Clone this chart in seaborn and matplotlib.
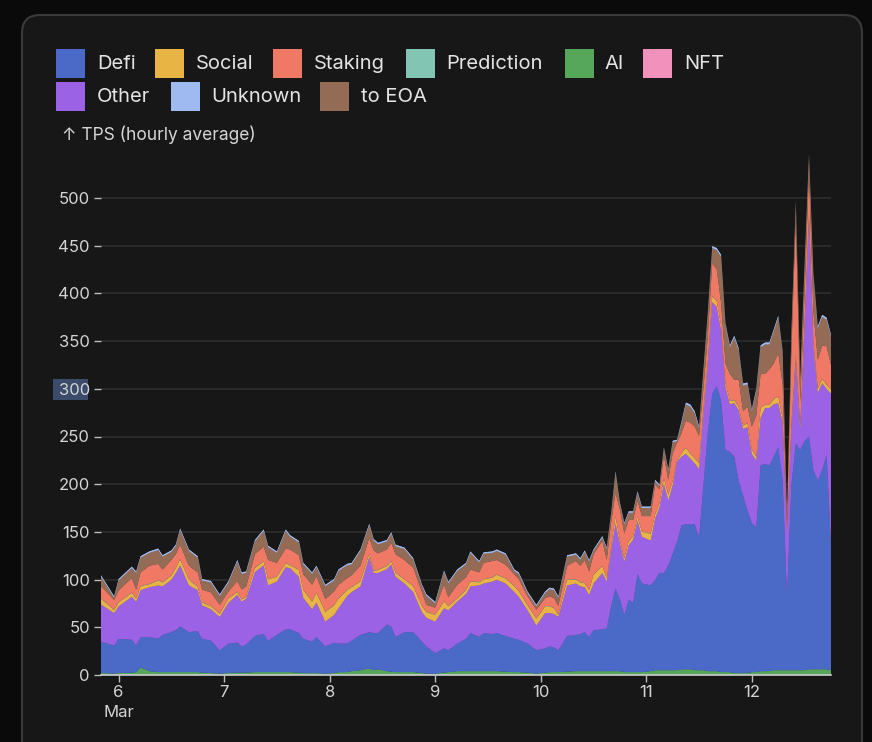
import pandas as pd
import matplotlib.pyplot as plt
import seaborn as sns
import seaborn.objects as so
from matplotlib.patches import FancyBboxPatch, Rectangle

# hours since Mar 5 20:00
hours = [0, 3, 4, 7, 8, 9, 11, 13, 14, 16,
         17, 18, 20, 22, 23, 25, 27, 29, 31, 32,
         33, 35, 37, 38, 40, 42, 43, 45, 46, 48,
         49, 51, 53, 54, 56, 57, 59, 61, 62, 63,
         65, 66, 67, 69, 71, 73, 74, 76, 78, 79,
         81, 83, 84, 86, 87, 89, 90, 92, 94, 95,
         97, 99, 101, 102, 103, 104, 106, 108, 109, 110,
         111, 112, 114, 115, 116, 117, 118, 119, 120, 121,
         122, 123, 125, 126, 127, 128, 129, 130, 131,
         132, 133, 134, 135, 136, 137, 138, 139, 140, 141,
         142, 143, 144, 145, 146, 147, 148, 149, 150, 151,
         152, 153, 154, 155, 156, 157, 158, 159, 160, 161,
         162, 163, 164, 165, 166]

ai = [2, 1.5, 2, 2.5, 3, 8, 4, 3, 3, 3,
      3, 3, 3, 3, 2.5, 2, 1.5, 2, 2.5, 2.5,
      2.5, 3, 3, 3, 3, 3, 3, 2.5, 2, 2,
      2, 1.5, 2, 3, 3, 4, 5, 7, 5, 6,
      4, 3.5, 3, 3, 3, 2, 1.5, 1.5, 2.5, 3,
      4, 4, 4, 4, 4, 4, 4, 3.5, 3, 3,
      2.5, 1.5, 2.5, 3, 3, 3, 3.5, 4, 4, 4,
      4, 4, 4, 4, 4, 4, 4, 3, 3, 3,
      3, 3, 4, 5, 5, 5, 5, 5, 5,
      6, 6, 6, 5, 5, 5, 4, 4, 4, 3,
      3, 3, 2, 2, 2, 2, 3, 3, 4, 4,
      4, 5, 5, 5, 5, 5, 5, 5, 5, 6,
      6, 6, 6, 6, 5]

defi = [33, 29.5, 36, 34.5, 28, 32, 36, 35, 39, 42,
        44, 48, 42, 43, 35.5, 34, 24.5, 31, 31.5, 27.5,
        29.5, 38, 40, 33, 39, 45, 45, 41.5, 36, 33,
        38, 28.5, 32, 30, 30, 32, 37, 38, 39, 38,
        49, 47.5, 37, 42, 42, 33, 28.5, 21.5, 25.5, 23,
        29, 34, 40, 36, 40, 39, 40, 37.5, 35, 34,
        30.5, 24.5, 25.5, 27, 26, 23, 37.5, 38, 39, 41,
        36, 43, 44, 45, 68, 87, 75, 60, 76, 73,
        103, 93, 90, 95, 102, 102, 110, 122, 135,
        151, 152, 152, 153, 140, 195, 251, 291, 299, 285,
        233, 231, 227, 202, 186, 171, 156, 152, 216, 217,
        216, 224, 234, 200, 79, 195, 238, 231, 240, 244,
        209, 198, 209, 225, 133]

other = [39, 34, 34, 45, 46, 49, 52, 56, 51, 55,
         60, 64, 49, 43, 35, 33, 35, 43, 50, 47,
         48, 67, 72, 58, 56, 65, 64, 59, 43, 34,
         36, 26, 29, 37, 50, 51, 51, 79, 63, 63,
         58, 65, 63, 51, 42, 31, 30, 33, 42, 42,
         44, 47, 49, 54, 52, 55, 56, 55, 49, 45,
         35, 26, 37, 35, 35, 35, 53, 54, 50, 47,
         44, 49, 59, 49, 59, 68, 59, 56, 57, 66,
         56, 49, 47, 64, 69, 94, 68, 72, 84,
         72, 74, 69, 64, 71, 75, 70, 96, 83, 74,
         66, 50, 56, 74, 70, 87, 73, 70, 50, 59,
         60, 55, 46, 60, 66, 60, 87, 22, 120, 230,
         130, 92, 91, 69, 157]

social = [6, 3, 4, 4, 3, 4, 3, 5, 4, 4,
          5, 6, 6, 3, 3, 3, 3, 4, 3, 2,
          2, 4, 4, 6, 5, 4, 3, 7, 8, 8,
          10, 10, 10, 10, 6, 5, 5, 3, 2, 3,
          3, 3, 4, 4, 6, 6, 6, 7, 7, 4,
          3, 4, 5, 3, 4, 4, 5, 5, 6, 6,
          5, 7, 7, 7, 6, 2, 6, 4, 4, 4,
          5, 9, 7, 3, 3, 7, 3, 3, 4, 3,
          4, 5, 7, 4, 4, 5, 6, 4, 1,
          3, 6, 5, 5, 6, 5, 5, 6, 6, 4,
          4, 3, 3, 3, 3, 4, 4, 4, 10, 3,
          3, 5, 7, 4, 2, 5, 5, 4, 5, 4,
          5, 4, 4, 4, 4]

prediction = [0.4, 0.4, 0.4, 0.4, 0.4, 0.4, 0.4, 0.4, 0.4, 0.4,
              0.4, 0.4, 0.4, 0.4, 0.4, 0.4, 0.4, 0.4, 0.4, 0.4,
              0.4, 0.4, 0.4, 0.4, 0.4, 0.4, 0.4, 0.4, 0.4, 0.4,
              0.4, 0.4, 0.4, 0.4, 0.4, 0.4, 0.4, 0.4, 0.4, 0.4,
              0.4, 0.4, 0.4, 0.4, 0.4, 0.4, 0.4, 0.4, 0.4, 0.4,
              0.4, 0.4, 0.4, 0.4, 0.4, 0.4, 0.4, 0.4, 0.4, 0.4,
              0.4, 0.4, 0.4, 0.4, 0.4, 0.4, 0.4, 0.4, 0.4, 0.4,
              0.4, 0.4, 0.4, 0.4, 0.4, 0.4, 0.4, 0.4, 0.4, 0.4,
              0.4, 0.4, 0.4, 0.4, 0.4, 0.4, 0.4, 0.4, 0.4,
              0.4, 0.4, 0.4, 0.4, 0.4, 0.4, 0.4, 0.4, 0.4, 0.4,
              0.4, 0.4, 0.4, 0.4, 0.4, 0.4, 0.4, 0.4, 0.4, 0.4,
              0.4, 0.4, 0.4, 0.4, 0.4, 0.4, 0.4, 0.4, 0.4, 0.4,
              0.4, 0.4, 0.4, 0.4, 0.4]

staking = [12.6, 10, 12, 15, 9, 14, 19, 17, 13, 16,
           14, 15, 14, 15, 13, 14, 9, 7, 11, 10,
           10, 14, 15, 20, 14, 15, 16, 15, 16, 17,
           17, 13, 14, 14, 12, 12, 16, 16, 21, 17,
           17, 19, 19, 20, 19, 14, 7, 7, 17, 9,
           14, 13, 12, 10, 17, 17, 15, 14, 12, 12,
           9, 9, 8, 10, 10, 9, 14, 19, 17, 24,
           19, 21, 26, 19, 25, 24, 32, 26, 22, 17,
           16, 16, 18, 31, 14, 23, 15, 29, 18,
           21, 28, 32, 33, 28, 20, 25, 34, 33, 24,
           20, 28, 21, 28, 15, 17, 24, 42, 35, 32,
           37, 37, 45, 35, 8, 75, 143, 23, 30, 43,
           30, 30, 35, 40, 25]

nft = [0.2, 0.2, 0.2, 0.2, 0.2, 0.2, 0.2, 0.2, 0.2, 0.2,
       0.2, 0.2, 0.2, 0.2, 0.2, 0.2, 0.2, 0.2, 0.2, 0.2,
       0.2, 0.2, 0.2, 0.2, 0.2, 0.2, 0.2, 0.2, 0.2, 0.2,
       0.2, 0.2, 0.2, 0.2, 0.2, 0.2, 0.2, 0.2, 0.2, 0.2,
       0.2, 0.2, 0.2, 0.2, 0.2, 0.2, 0.2, 0.2, 0.2, 0.2,
       0.2, 0.2, 0.2, 0.2, 0.2, 0.2, 0.2, 0.2, 0.2, 0.2,
       0.2, 0.2, 0.2, 0.2, 0.2, 0.2, 0.2, 0.2, 0.2, 0.2,
       0.2, 0.2, 0.2, 0.2, 0.2, 0.2, 0.2, 0.2, 0.2, 0.2,
       0.2, 0.2, 0.2, 0.2, 0.2, 0.2, 0.2, 0.2, 0.2,
       0.2, 0.2, 0.2, 0.2, 0.2, 0.2, 0.2, 0.2, 0.2, 0.2,
       0.2, 0.2, 0.2, 0.2, 0.2, 0.2, 0.2, 0.2, 0.2, 0.2,
       0.2, 0.2, 0.2, 0.2, 0.2, 0.2, 0.2, 0.2, 0.2, 0.2,
       0.2, 0.2, 0.2, 0.2, 0.2]

to_eoa = [9.9, 2.5, 10.5, 10.5, 17.5, 15.5, 13.5, 14.5, 13.5, 8.5,
          8.5, 15.5, 15.5, 15.5, 9.5, 10.5, 9.5, 9.5, 20.5, 16.5,
          14.5, 13.5, 16.5, 13.5, 10.5, 18.5, 13.5, 13.5, 10.5, 11.5,
          9.5, 13.5, 11.5, 14.5, 13.5, 11.5, 15.5, 13.5, 10.5, 9.5,
          8.5, 9.5, 8.5, 11.5, 8.5, 6.5, 9.5, 4.5, 13.5, 14.5,
          14.5, 13.5, 17.5, 10.5, 9.5, 8.5, 9.5, 10.5, 3.5, 5.5,
          3.5, 3.5, 5.5, 7.5, 8.5, 8.5, 9.5, 6.5, 6.5, 8.5,
          10.5, 3.5, 3.5, 11.5, 8.5, 21.5, 5.5, 9.5, 7.5, 7.5,
          8.5, 8.5, 8.5, 3.5, 3.5, 7.5, 9.5, 11.5, 1.5,
          10, 17, 17, 14, 8, 18, 23, 16, 20, 48,
          40, 28, 44, 31, 27, 23, 16, 26, 28, 31,
          26, 34, 37, 33, 4, 18, 16, 22, 28, 16,
          38, 33, 30, 28, 30]

unknown = [1.5, 1.5, 1.5, 1.5, 1.5, 1.5, 1.5, 1.5, 1.5, 1.5,
           1.5, 1.5, 1.5, 1.5, 1.5, 1.5, 1.5, 1.5, 1.5, 1.5,
           1.5, 1.5, 1.5, 1.5, 1.5, 1.5, 1.5, 1.5, 1.5, 1.5,
           1.5, 1.5, 1.5, 1.5, 1.5, 1.5, 1.5, 1.5, 1.5, 1.5,
           1.5, 1.5, 1.5, 1.5, 1.5, 1.5, 1.5, 1.5, 1.5, 1.5,
           1.5, 1.5, 1.5, 1.5, 1.5, 1.5, 1.5, 1.5, 1.5, 1.5,
           1.5, 1.5, 1.5, 1.5, 1.5, 1.5, 1.5, 1.5, 1.5, 1.5,
           1.5, 1.5, 1.5, 1.5, 1.5, 1.5, 1.5, 1.5, 1.5, 1.5,
           1.5, 1.5, 1.5, 1.5, 1.5, 1.5, 1.5, 1.5, 1.5,
           2, 2, 2, 2, 2, 2, 2, 2, 2, 2,
           2, 2, 2, 2, 2, 2, 2, 2, 2, 2,
           2, 2, 2, 2, 2, 2, 2, 2, 2, 2,
           2, 2, 2, 2, 2]

legend_order = ["Defi", "Social", "Staking", "Prediction", "AI", "NFT",
                "Other", "Unknown", "to EOA"]
stack_order = ["AI", "Defi", "Other", "Social", "Prediction", "Staking",
               "NFT", "to EOA", "Unknown"]
palette = {
    "Defi": "#4b69c6",
    "Social": "#e8b444",
    "Staking": "#f07965",
    "Prediction": "#82c5b2",
    "AI": "#57a75a",
    "NFT": "#f391bd",
    "Other": "#9b62e6",
    "Unknown": "#9fbaf0",
    "to EOA": "#946c55",
}
day_ticks = [4, 28, 52, 76, 100, 124, 148]
day_labels = ["6\nMar", "7", "8", "9", "10", "11", "12"]
y_ticks = [0, 50, 100, 150, 200, 250, 300, 350, 400, 450, 500]

sns.set_theme(style="dark")
plt.rcParams["font.family"] = ["Inter", "DejaVu Sans"]

df = pd.DataFrame({
    "hour": hours,
    "AI": ai,
    "Defi": defi,
    "Other": other,
    "Social": social,
    "Prediction": prediction,
    "Staking": staking,
    "NFT": nft,
    "to EOA": to_eoa,
    "Unknown": unknown,
})
long = df.melt(id_vars="hour", value_vars=stack_order, var_name="type", value_name="tps")

fig = plt.figure(figsize=(8.72, 7.42), dpi=100)
fig.patch.set_facecolor("#0a0a0a")

# card + legend layer, in pixel coords
bg = fig.add_axes([0, 0, 1, 1])
bg.set_xlim(0, 872)
bg.set_ylim(742, 0)
bg.axis("off")
bg.add_patch(FancyBboxPatch((22, 15), 840, 770, boxstyle="round,pad=0,rounding_size=18",
                            fc="#171717", ec="#3a3a3a", lw=1.5))

legend_pos = {
    "Defi": (56, 49, 97), "Social": (155, 49, 196), "Staking": (273, 49, 314),
    "Prediction": (406, 49, 446), "AI": (565, 49, 604), "NFT": (643, 49, 684),
    "Other": (56, 82, 97), "Unknown": (171, 82, 211), "to EOA": (320, 82, 361),
}
for name in legend_order:
    sx, sy, tx = legend_pos[name]
    bg.add_patch(Rectangle((sx, sy), 29, 29, fc=palette[name], ec="none"))
    bg.text(tx, sy + 15, name, color="#e4e4e4", fontsize=14.5, va="center", ha="left")

bg.text(62, 135, "↑ TPS (hourly average)", color="#d6d6d6", fontsize=12.5, va="center", ha="left")
# selection highlight behind the 300 label
bg.add_patch(Rectangle((53, 379), 35, 21, fc="#3b4c6b", ec="none"))

ax = fig.add_axes([101 / 872, (742 - 675) / 742, 730 / 872, (675 - 150.3) / 742])

(
    so.Plot(long, x="hour", y="tps", color="type")
    .add(so.Area(alpha=1, edgewidth=0.6), so.Stack(), legend=False)
    .scale(color=so.Nominal(palette, order=stack_order))
    .on(ax)
    .plot()
)

ax.set_facecolor("none")
ax.set_xlim(0, 166)
ax.set_ylim(0, 550)
ax.set_xticks(day_ticks, day_labels)
ax.set_yticks(y_ticks)
ax.set_xlabel("")
ax.set_ylabel("")
for s in ["left", "top", "right"]:
    ax.spines[s].set_visible(False)
ax.spines["bottom"].set_color("#cfcfcf")
ax.spines["bottom"].set_linewidth(1.2)
ax.tick_params(axis="y", left=True, length=5, width=1, color="#bdbdbd",
               labelcolor="#d4d4d4", labelsize=12, pad=3)
ax.tick_params(axis="x", bottom=True, length=5, width=1, color="#bdbdbd",
               labelcolor="#d4d4d4", labelsize=12, pad=2)
for lab in ax.get_xticklabels():
    lab.set_linespacing(1.45)
ax.grid(False)
ax.yaxis.grid(True, color="#2b2b2b", lw=1.3)
ax.set_axisbelow(True)

fig.savefig("out.png", dpi=100, facecolor=fig.get_facecolor())
